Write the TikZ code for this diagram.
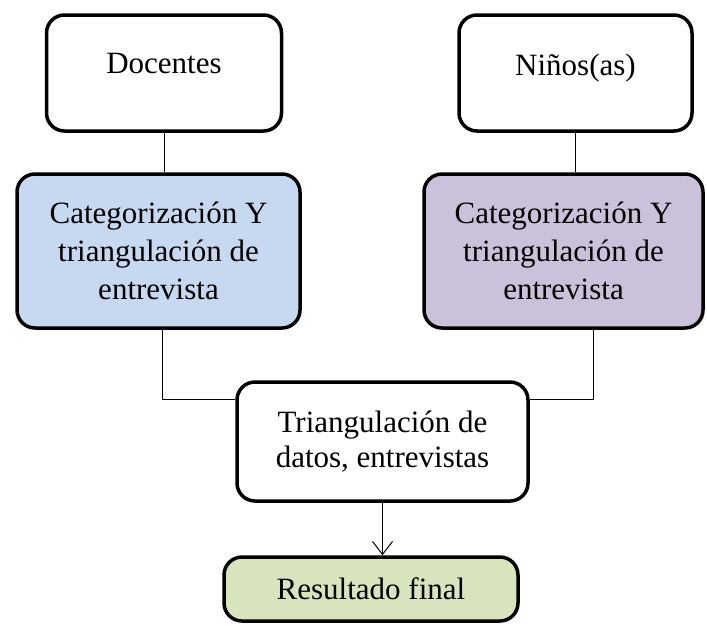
\documentclass[tikz,border=0pt]{standalone}
\usepackage{fontspec}
\setmainfont{Liberation Serif}
\usetikzlibrary{arrows.meta}
\definecolor{catblue}{HTML}{C6D9F1}
\definecolor{catlila}{HTML}{CCC1DA}
\definecolor{resgreen}{HTML}{D7E4BD}

\begin{document}
\begin{tikzpicture}[x=1pt, y=-1pt,
        box/.style={draw, line width=3.5pt, rounded corners=18pt, align=center, inner sep=0pt},
        link/.style={line width=1pt},
        font=\fontsize{31}{38}\selectfont]
        \useasboundingbox (0,0) rectangle (707,625);

        % fuentes
        \node[box, minimum width=235pt, minimum height=116pt] (doc) at (164,73) {};
        \node[anchor=base] (doctext) at (doc.center) {Docentes};
        \node[box, minimum width=233pt, minimum height=116pt] (nin) at (575.5,73) {};
        \node[anchor=base] (nintext) at ([yshift=-2pt]nin.center) {Niños(as)};

        % categorizacion
        \node[box, fill=catblue, minimum width=283pt, minimum height=154pt] (cat1) at (158.5,251)
            {Categorización Y\\triangulación de\\entrevista};
        \node[box, fill=catlila, minimum width=279pt, minimum height=154pt] (cat2) at (563.5,251)
            {Categorización Y\\triangulación de\\entrevista};

        \node[box, minimum width=291pt, minimum height=119pt, font=\fontsize{31}{35}\selectfont] (tri) at (382.5,441.5)
            {Triangulación de\\datos, entrevistas};
        \node[box, fill=resgreen, minimum width=294pt, minimum height=64pt] (res) at (371,589) {Resultado final};

        \draw[link] (doc.south) -- (doc.south |- cat1.north);
        \draw[link] (nin.south) -- (nin.south |- cat2.north);
        \draw[link] ([xshift=4pt]cat1.south) |- ([yshift=42pt]tri.west);
        \draw[link] ([xshift=30pt]cat2.south) |- ([yshift=42pt]tri.east);
        \draw[link, -{Straight Barb[length=13pt,width=20pt]}] (tri.south) -- (tri.south |- res.north);

    \end{tikzpicture}
\end{document}
